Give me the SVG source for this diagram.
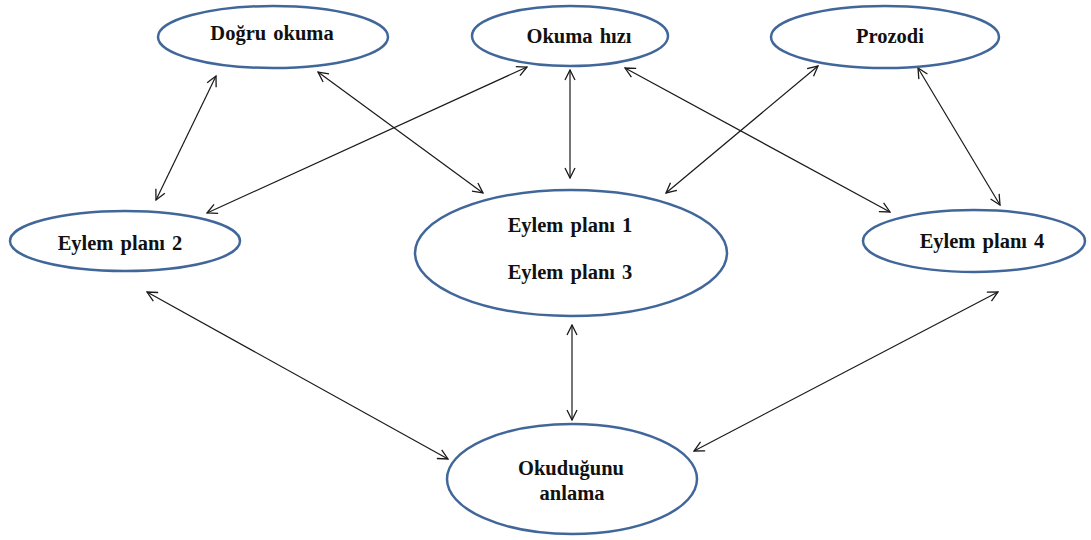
<svg xmlns="http://www.w3.org/2000/svg" width="1091" height="540" viewBox="0 0 1091 540">
<defs>
<marker id="ah" viewBox="0 0 12 12" refX="11" refY="6" markerWidth="12" markerHeight="12" markerUnits="userSpaceOnUse" orient="auto-start-reverse">
<path d="M1,1 L11,6 L1,11" fill="none" stroke="#1a1a1a" stroke-width="1.3"/>
</marker>
<style>
.n ellipse{fill:#fff;stroke:#41679a;stroke-width:2.5}
.n text{font-family:"Liberation Serif","Times New Roman",serif;font-weight:bold;font-size:20.5px;fill:#111;text-anchor:middle;word-spacing:2px}
#edges line{stroke:#1a1a1a;stroke-width:1.2;marker-start:url(#ah);marker-end:url(#ah)}
</style>
</defs>
<rect width="1091" height="540" fill="#fff"/>
<g id="edges">
<line x1="216" y1="76" x2="156" y2="200"/>
<line x1="318" y1="72" x2="483" y2="193"/>
<line x1="527" y1="67" x2="207" y2="213"/>
<line x1="570" y1="70" x2="570" y2="178"/>
<line x1="625" y1="68" x2="890" y2="212"/>
<line x1="818" y1="66" x2="666" y2="193"/>
<line x1="918" y1="68" x2="1000" y2="205"/>
<line x1="147" y1="292" x2="448" y2="459"/>
<line x1="572" y1="325" x2="572" y2="420"/>
<line x1="998" y1="292" x2="694" y2="451"/>
</g>
<g id="dogru" class="n"><ellipse cx="273" cy="37" rx="115" ry="31"/><text x="272" y="40">Doğru okuma</text></g>
<g id="hiz" class="n"><ellipse cx="570" cy="36" rx="98" ry="30"/><text x="579" y="43">Okuma hızı</text></g>
<g id="prozodi" class="n"><ellipse cx="885" cy="37" rx="114" ry="31"/><text x="890" y="43">Prozodi</text></g>
<g id="ep2" class="n"><ellipse cx="125" cy="241" rx="115" ry="30"/><text x="120" y="250">Eylem planı 2</text></g>
<g id="ep13" class="n"><ellipse cx="571" cy="253" rx="156" ry="63"/><text x="570" y="232">Eylem planı 1</text><text x="570" y="279">Eylem planı 3</text></g>
<g id="ep4" class="n"><ellipse cx="974" cy="241" rx="111" ry="31"/><text x="982" y="248">Eylem planı 4</text></g>
<g id="anlama" class="n"><ellipse cx="572" cy="479" rx="125" ry="55"/><text x="571" y="475">Okuduğunu</text><text x="572" y="500">anlama</text></g>
</svg>
